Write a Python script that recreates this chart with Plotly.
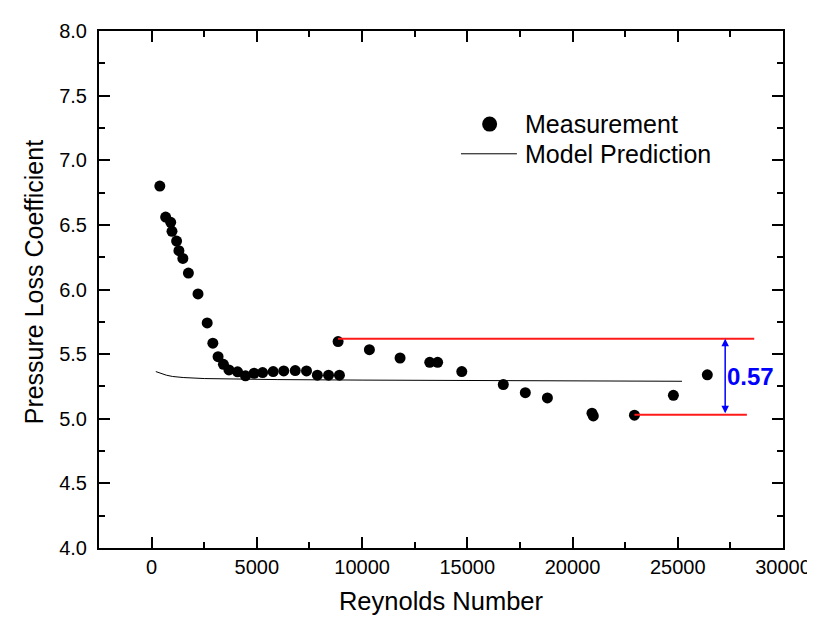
import plotly.graph_objects as go

# ---- data ----
re_meas = [390, 667, 907, 968, 1187, 1297, 1485, 1748, 2204, 2641, 2909, 3158,
           3412, 3675, 4084, 4460, 4869, 5274, 5776, 6279, 6824, 7360, 7876,
           8407, 8924, 8860, 10348, 11805, 13215, 13591, 14737, 16710, 17757,
           18806, 20924, 20987, 22941, 24792, 26404]
k_meas = [6.80, 6.56, 6.52, 6.45, 6.375, 6.30, 6.24, 6.127, 5.966, 5.741, 5.585,
          5.48, 5.421, 5.378, 5.363, 5.332, 5.352, 5.357, 5.365, 5.370, 5.373,
          5.370, 5.337, 5.337, 5.337, 5.597, 5.534, 5.470, 5.437, 5.437, 5.365,
          5.265, 5.202, 5.161, 5.043, 5.022, 5.028, 5.181, 5.340]

re_model = [200, 400, 700, 1000, 1500, 2500, 4000, 6000, 10000, 15000, 20000, 25200]
k_model = [5.365, 5.352, 5.337, 5.327, 5.319, 5.311, 5.306, 5.303, 5.299, 5.296, 5.293, 5.290]

# reference bands for the spread annotation
band_high = 5.618
band_low = 5.030
band_high_x = [8860, 28633]
band_low_x = [22941, 28284]
arrow_x = 27252
spread_label = "0.57"
label_pos = (28444, 5.327)

x_ticks = [0, 5000, 10000, 15000, 20000, 25000, 30000]
y_ticks = [4.0, 4.5, 5.0, 5.5, 6.0, 6.5, 7.0, 7.5, 8.0]

FONT = "Arial, Liberation Sans, sans-serif"

fig = go.Figure()
fig.add_trace(go.Scatter(x=re_model, y=k_model, mode="lines",
                         line=dict(color="black", width=1),
                         name="Model Prediction", showlegend=False))
fig.add_trace(go.Scatter(x=re_meas, y=k_meas, mode="markers",
                         marker=dict(color="black", size=11),
                         name="Measurement", showlegend=False))

shapes = [
    dict(type="line", xref="x", yref="y", x0=band_high_x[0], x1=band_high_x[1],
         y0=band_high, y1=band_high, line=dict(color="#ff1a1a", width=2)),
    dict(type="line", xref="x", yref="y", x0=band_low_x[0], x1=band_low_x[1],
         y0=band_low, y1=band_low, line=dict(color="#ff1a1a", width=2)),
    # legend: marker
    dict(type="circle", xref="paper", yref="paper", xsizemode="pixel", ysizemode="pixel",
         xanchor=0.5711, yanchor=0.8199, x0=-7.5, x1=7.5, y0=-7.5, y1=7.5,
         fillcolor="black", line=dict(color="black", width=0)),
    # legend: line
    dict(type="line", xref="paper", yref="paper", x0=0.5292, x1=0.6110,
         y0=0.7625, y1=0.7625, line=dict(color="black", width=1)),
]

annotations = [
    dict(x=arrow_x, y=band_high, ax=arrow_x, ay=band_low, xref="x", yref="y",
         axref="x", ayref="y", text="", showarrow=True, arrowside="end+start",
         arrowhead=2, arrowsize=1, arrowwidth=1.5, arrowcolor="#0000ff",
         standoff=0, startstandoff=0),
    dict(x=label_pos[0], y=label_pos[1], xref="x", yref="y", text="<b>%s</b>" % spread_label,
         showarrow=False, font=dict(family=FONT, size=24, color="#0000ff")),
    dict(x=0.6193, y=0.8199, xref="paper", yref="paper", text="Measurement",
         showarrow=False, xanchor="left", yanchor="middle",
         font=dict(family=FONT, size=25, color="black")),
    dict(x=0.6193, y=0.7625, xref="paper", yref="paper", text="Model Prediction",
         showarrow=False, xanchor="left", yanchor="middle",
         font=dict(family=FONT, size=25, color="black")),
    # y-axis title
    dict(x=-0.095, y=0.514, xref="paper", yref="paper", text="Pressure Loss Coefficient",
         showarrow=False, textangle=-90, xanchor="center", yanchor="middle",
         font=dict(family=FONT, size=25, color="black")),
]

axis_common = dict(showgrid=False, zeroline=False, showline=True, linecolor="black",
                   linewidth=2, mirror="ticks", ticks="inside", ticklen=11,
                   tickwidth=2, tickcolor="black",
                   tickfont=dict(family=FONT, size=20, color="black"))

fig.update_layout(
    width=815, height=619,
    margin=dict(l=91, r=33, t=18, b=79),
    paper_bgcolor="white", plot_bgcolor="white",
    showlegend=False,
    shapes=shapes, annotations=annotations,
    xaxis=dict(range=[-2500, 30000], tickvals=x_ticks,
               ticktext=[str(v) for v in x_ticks],
               minor=dict(ticks="inside", dtick=2500, tick0=0, ticklen=6,
                          tickwidth=2, tickcolor="black"),
               title=dict(text="Reynolds Number", standoff=15,
                          font=dict(family=FONT, size=25.5, color="black")),
               **axis_common),
    yaxis=dict(range=[4, 8], tickvals=y_ticks,
               ticktext=["%.1f" % v for v in y_ticks],
               minor=dict(ticks="inside", dtick=0.25, tick0=4, ticklen=6,
                          tickwidth=2, tickcolor="black"),
               ticklabelstandoff=6,
               **axis_common),
)

fig.write_html("out.html")
